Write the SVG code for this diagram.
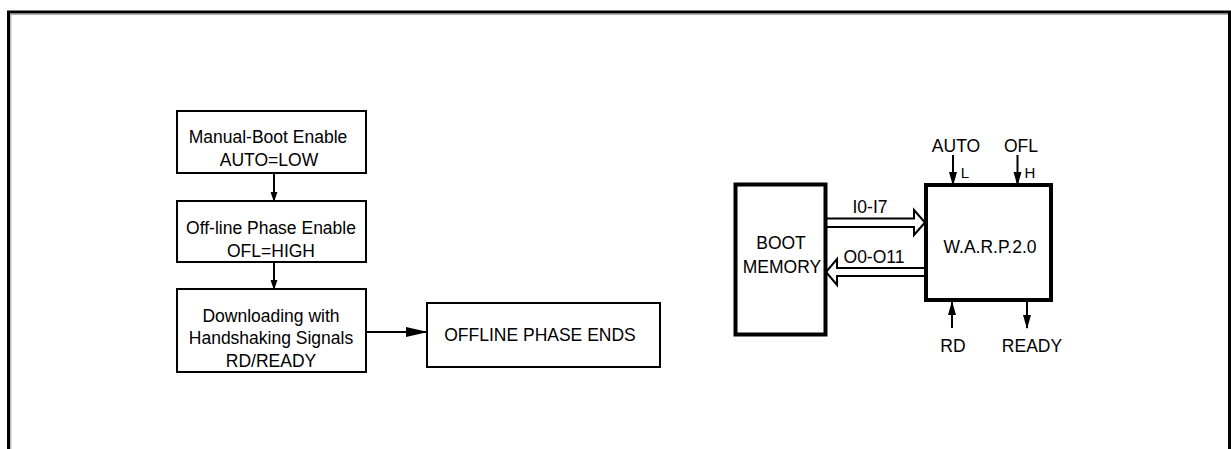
<svg xmlns="http://www.w3.org/2000/svg" width="1231" height="449" viewBox="0 0 1231 449">
<style>
text{font-family:"Liberation Sans",Arial,sans-serif;font-size:17.5px;fill:#000;text-anchor:middle}
.box{fill:#fff;stroke:#000;stroke-width:2}
.thick{fill:#fff;stroke:#000;stroke-width:4}
.ln{stroke:#000;stroke-width:2;fill:none}
.bus{fill:#fff;stroke:#000;stroke-width:2;stroke-linejoin:miter}
.sm{font-size:15px}
</style>
<defs>
<marker id="ah" markerWidth="10" markerHeight="10" refX="9" refY="5" orient="auto" markerUnits="userSpaceOnUse">
<path d="M0,1.5 L10,5 L0,8.5 Z" fill="#000"/>
</marker>
<marker id="ahL" markerWidth="22" markerHeight="12" refX="21" refY="6" orient="auto" markerUnits="userSpaceOnUse">
<path d="M0,1 L22,6 L0,11 Z" fill="#000"/>
</marker>
<marker id="ahS" markerWidth="14" markerHeight="10" refX="13" refY="5" orient="auto" markerUnits="userSpaceOnUse">
<path d="M0,1 L14,5 L0,9 Z" fill="#000"/>
</marker>
</defs>
<rect width="1231" height="449" fill="#fff"/>
<g id="frame">
<path d="M8.5,449 V12 H1229.5 V449" fill="none" stroke="#000" stroke-width="3"/>
<path d="M10.8,449 V14.3 H1228" fill="none" stroke="#999" stroke-width="1"/>
</g>
<g id="connectors">
<line class="ln" x1="274" y1="173" x2="274" y2="201" marker-end="url(#ah)"/>
<line class="ln" x1="274" y1="262" x2="274" y2="289" marker-end="url(#ah)"/>
<line class="ln" x1="366" y1="332" x2="427" y2="332" marker-end="url(#ahL)"/>
<path class="bus" d="M827,218.5 H914 V210 L925,222.5 L914,235 V227 H827"/>
<path class="bus" d="M924,268 H837 V259 L826,272 L837,285 V276 H924"/>
<line class="ln" x1="953" y1="155" x2="953" y2="185" marker-end="url(#ahS)"/>
<line class="ln" x1="1017.5" y1="155" x2="1017.5" y2="185" marker-end="url(#ahS)"/>
<line class="ln" x1="952" y1="328" x2="952" y2="302" marker-end="url(#ahS)"/>
<line class="ln" x1="1027" y1="302" x2="1027" y2="328" marker-end="url(#ahS)"/>
</g>
<g id="n-manual">
<rect class="box" x="177" y="111" width="189" height="62"/>
<text x="268" y="143">Manual-Boot Enable</text>
<text x="269" y="166">AUTO=LOW</text>
</g>
<g id="n-offline">
<rect class="box" x="177" y="201" width="189" height="61"/>
<text x="271" y="234">Off-line Phase Enable</text>
<text x="271" y="257">OFL=HIGH</text>
</g>
<g id="n-download">
<rect class="box" x="177" y="289" width="189" height="83"/>
<text x="271" y="322">Downloading with</text>
<text x="271" y="344">Handshaking Signals</text>
<text x="271" y="367">RD/READY</text>
</g>
<g id="n-ends">
<rect class="box" x="427" y="303" width="233" height="64"/>
<text x="540" y="341">OFFLINE  PHASE ENDS</text>
</g>
<g id="n-boot">
<rect class="thick" x="735.5" y="184.5" width="90" height="150"/>
<text x="781" y="249">BOOT</text>
<text x="782" y="273">MEMORY</text>
</g>
<g id="n-warp">
<rect class="thick" x="926" y="185" width="125" height="115"/>
<text x="990" y="253">W.A.R.P.2.0</text>
</g>
<g id="labels">
<text x="870" y="213">I0-I7</text>
<text x="874" y="263">O0-O11</text>
<text x="956" y="152">AUTO</text>
<text x="1021" y="152">OFL</text>
<text x="965" y="178" class="sm">L</text>
<text x="1030" y="178" class="sm">H</text>
<text x="953" y="352">RD</text>
<text x="1032" y="352">READY</text>
</g>
</svg>
